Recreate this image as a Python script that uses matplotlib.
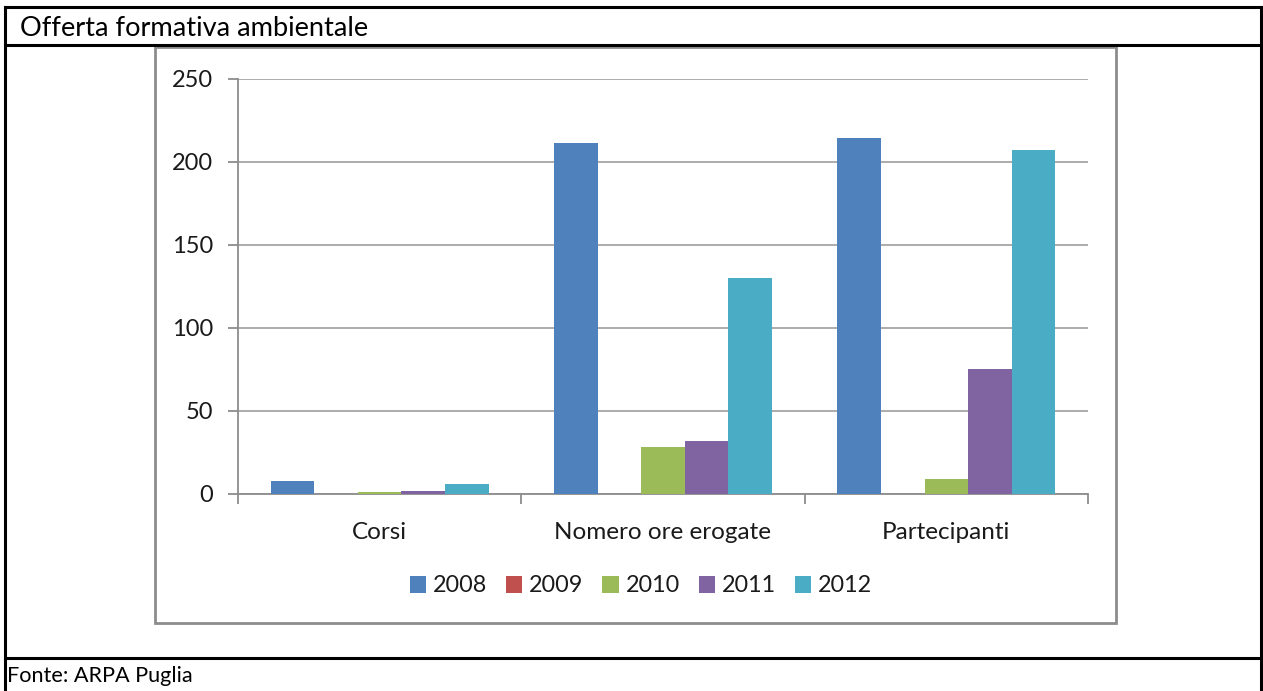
import numpy as np
import matplotlib.pyplot as plt
from matplotlib.patches import Rectangle
from matplotlib.lines import Line2D

plt.rcParams['font.family'] = ['Lato', 'DejaVu Sans']

categories = ["Corsi", "Nomero ore erogate", "Partecipanti"]
years = ["2008", "2009", "2010", "2011", "2012"]
v2008 = [8, 211, 214]
v2009 = [0, 0, 0]
v2010 = [1, 28, 9]
v2011 = [2, 32, 75]
v2012 = [6, 130, 207]
colors = ["#4F81BD", "#C0504D", "#9BBB59", "#8064A2", "#4BACC6"]

W, H = 1263, 691
fig = plt.figure(figsize=(W / 100, H / 100), dpi=100)

# table frame and chart frame, in pixel coords
def fx(x): return x / W
def fy(y): return 1 - y / H

for (x0, y0, x1, y1) in [(5, 7, 1261, 7), (5, 45, 1261, 45), (5, 658, 1261, 658),
                          (5, 7, 5, 691), (1261, 7, 1261, 691)]:
    fig.add_artist(Line2D([fx(x0), fx(x1)], [fy(y0), fy(y1)], color="black", lw=2.2))
fig.add_artist(Rectangle((fx(155), fy(623)), fx(1116) - fx(155), fy(47) - fy(623),
                         fill=False, ec="#8c8c8c", lw=2))

fig.text(fx(20), fy(29), "Offerta formativa ambientale", fontsize=19.6, va="center", ha="left")
fig.text(fx(7), fy(676), "Fonte: ARPA Puglia", fontsize=15.6, va="center", ha="left")

ax = fig.add_axes([fx(238), fy(494), fx(1088) - fx(238), fy(78.6) - fy(494)])
series = [v2008, v2009, v2010, v2011, v2012]
x = np.arange(len(categories))
w = 1 / 6.5
for i, (vals, c, lab) in enumerate(zip(series, colors, years)):
    ax.bar(x + (i - 2) * w, vals, width=w, color=c, label=lab, zorder=3)

ax.set_xlim(-0.5, 2.5)
ax.set_ylim(0, 250)
ax.set_yticks(range(0, 251, 50))
ax.yaxis.grid(True, color="#a6a6a6", lw=1.3, zorder=0)
ax.set_xticks([-0.5, 0.5, 1.5, 2.5])
ax.set_xticklabels([])
ax.set_xticks(x, minor=True)
ax.set_xticklabels(categories, minor=True, color="#1a1a1a")
ax.tick_params(axis="x", which="minor", length=0, pad=20, labelsize=17.5)
ax.tick_params(axis="x", which="major", length=7, color="#8c8c8c", width=1.3)
ax.tick_params(axis="y", length=7, color="#8c8c8c", width=1.3, labelsize=17, pad=11,
               labelcolor="#1a1a1a")
for s in ["top", "right"]:
    ax.spines[s].set_visible(False)
for s in ["left", "bottom"]:
    ax.spines[s].set_color("#8c8c8c")
    ax.spines[s].set_linewidth(1.3)

fig.legend(loc="center", bbox_to_anchor=(fx(641), fy(586)),
           ncol=5, frameon=False, fontsize=16.8, handlelength=0.7, handleheight=0.7,
           handletextpad=0.3, columnspacing=0.8, labelcolor="#1a1a1a")

fig.savefig("out.png", dpi=100)
